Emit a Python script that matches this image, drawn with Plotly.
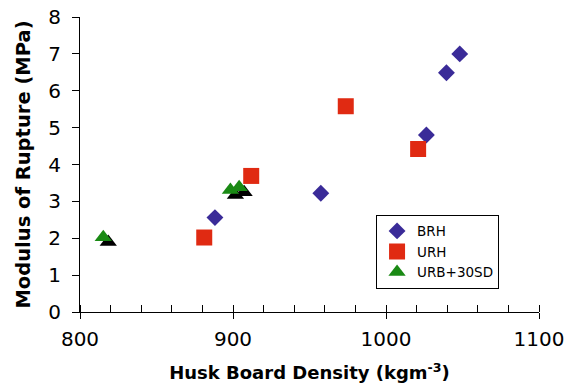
import plotly.graph_objects as go

# Data
brh_x = [888.2, 957.4, 1026.4, 1039.5, 1048.2]
brh_y = [2.56, 3.22, 4.80, 6.49, 7.00]
urh_x = [881.2, 911.9, 973.7, 1021.0]
urh_y = [2.02, 3.69, 5.58, 4.42]
urb_x = [815.2, 898.3, 904.0]
urb_y = [2.03, 3.31, 3.38]

x_range = [800, 1100]
y_range = [0, 8]
shadow_dx = 3.27   # shadow offset (data units)
shadow_dy = 0.135

FONT = "DejaVu Sans, Liberation Sans, Arial, sans-serif"

fig = go.Figure()

# shadow layer on the hidden base axes (shifted ranges)
fig.add_trace(go.Scatter(x=urb_x, y=urb_y, mode="markers", xaxis="x", yaxis="y",
                         marker=dict(symbol="triangle-up", size=15, color="black"),
                         showlegend=False, hoverinfo="skip"))

fig.add_trace(go.Scatter(x=brh_x, y=brh_y, mode="markers", name="BRH", xaxis="x2", yaxis="y2",
                         marker=dict(symbol="diamond", size=13, color="#3A2B98")))
fig.add_trace(go.Scatter(x=urh_x, y=urh_y, mode="markers", name="URH", xaxis="x2", yaxis="y2",
                         marker=dict(symbol="square", size=16, color="#E02A12")))
fig.add_trace(go.Scatter(x=urb_x, y=urb_y, mode="markers", name="URB+30SD", xaxis="x3", yaxis="y2",
                         marker=dict(symbol="triangle-up", size=15, color="#1A8A14")))

fig.update_layout(
    width=568, height=385,
    margin=dict(l=80, r=29, t=16.5, b=73, autoexpand=False),
    paper_bgcolor="white", plot_bgcolor="white",
    font=dict(family=FONT, color="black"),
    xaxis=dict(range=[x_range[0] - shadow_dx, x_range[1] - shadow_dx], visible=False,
               fixedrange=True, automargin=False),
    yaxis=dict(range=[y_range[0] + shadow_dy, y_range[1] + shadow_dy], visible=False,
               fixedrange=True, automargin=False),
    xaxis2=dict(range=x_range, overlaying="x", anchor="y2", showgrid=False, zeroline=False,
                showline=True, linecolor="black", linewidth=1, automargin=False,
                tickmode="linear", tick0=800, dtick=100,
                ticks="outside", ticklen=6, tickwidth=1, tickcolor="black",
                minor=dict(dtick=20, ticks="inside", ticklen=7, tickwidth=1, tickcolor="black", showgrid=False),
                tickfont=dict(size=20, family=FONT), ticklabelstandoff=3,
                title=dict(text="<b>Husk Board Density (kgm<sup>-3</sup>)</b>",
                           font=dict(size=18, family=FONT), standoff=16)),
    # companion axis: inside half of the major (crossing) ticks
    xaxis3=dict(range=x_range, overlaying="x", anchor="y2", showgrid=False, zeroline=False,
                showline=False, automargin=False, showticklabels=False,
                tickmode="linear", tick0=800, dtick=100,
                ticks="inside", ticklen=7, tickwidth=1, tickcolor="black"),
    yaxis2=dict(range=y_range, overlaying="y", anchor="x2", side="left", showgrid=False, zeroline=False,
                showline=True, linecolor="black", linewidth=1, automargin=False,
                tickmode="linear", tick0=0, dtick=1,
                ticks="outside", ticklen=7, tickwidth=1, tickcolor="black",
                tickfont=dict(size=20, family=FONT), ticklabelstandoff=7,
                title=dict(text="<b>Modulus of Rupture (MPa)</b>",
                           font=dict(size=19.5, family=FONT), standoff=12)),
    legend=dict(x=0.645, y=0.33, xanchor="left", yanchor="top",
                bordercolor="black", borderwidth=1, bgcolor="white",
                font=dict(size=13.5, family=FONT), tracegroupgap=5,
                itemwidth=30),
    showlegend=True,
)

fig.write_html("out.html")
